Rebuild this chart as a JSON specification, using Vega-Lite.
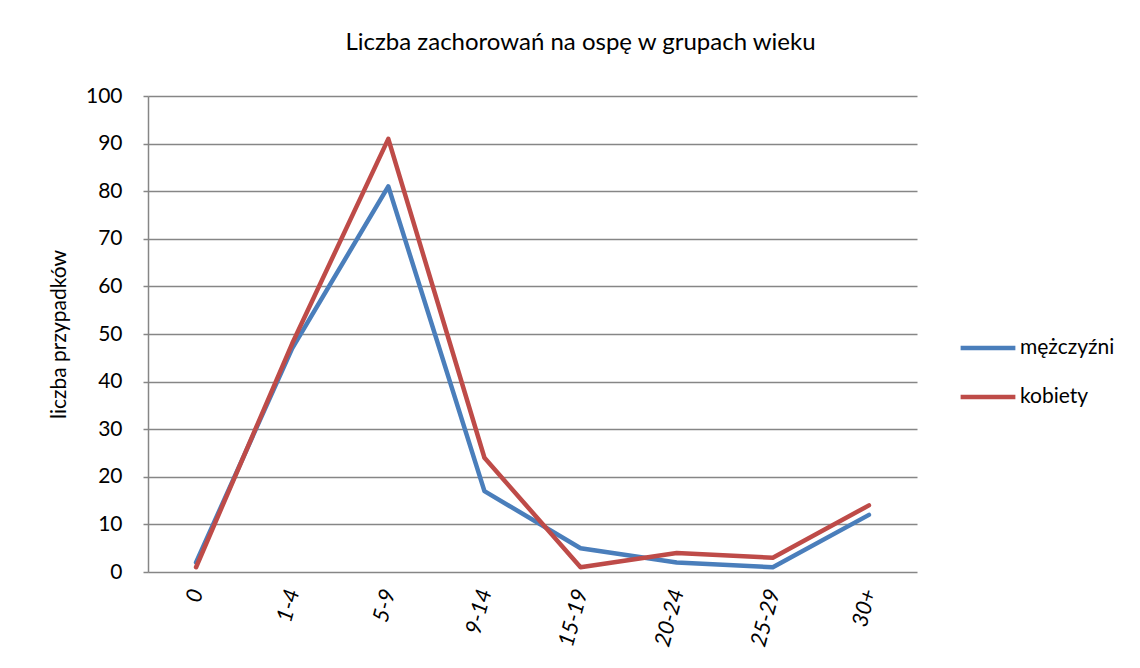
{
  "$schema": "https://vega.github.io/schema/vega-lite/v6.json",
  "width": 769,
  "height": 476,
  "autosize": {"type": "none"},
  "padding": {"left": 148, "top": 96, "right": 223, "bottom": 96},
  "background": "white",
  "title": {
    "text": "Liczba zachorowań na ospę w grupach wieku",
    "font": "Lato",
    "fontSize": 24,
    "fontWeight": "normal",
    "color": "#000000",
    "anchor": "middle",
    "dx": 48,
    "offset": 30
  },
  "data": {
    "values": [
      {"grupa": "0", "plec": "mężczyźni", "liczba": 2},
      {"grupa": "1-4", "plec": "mężczyźni", "liczba": 47},
      {"grupa": "5-9", "plec": "mężczyźni", "liczba": 81},
      {"grupa": "9-14", "plec": "mężczyźni", "liczba": 17},
      {"grupa": "15-19", "plec": "mężczyźni", "liczba": 5},
      {"grupa": "20-24", "plec": "mężczyźni", "liczba": 2},
      {"grupa": "25-29", "plec": "mężczyźni", "liczba": 1},
      {"grupa": "30+", "plec": "mężczyźni", "liczba": 12},
      {"grupa": "0", "plec": "kobiety", "liczba": 1},
      {"grupa": "1-4", "plec": "kobiety", "liczba": 48},
      {"grupa": "5-9", "plec": "kobiety", "liczba": 91},
      {"grupa": "9-14", "plec": "kobiety", "liczba": 24},
      {"grupa": "15-19", "plec": "kobiety", "liczba": 1},
      {"grupa": "20-24", "plec": "kobiety", "liczba": 4},
      {"grupa": "25-29", "plec": "kobiety", "liczba": 3},
      {"grupa": "30+", "plec": "kobiety", "liczba": 14}
    ]
  },
  "mark": {"type": "line", "strokeWidth": 4.5, "strokeCap": "round", "strokeJoin": "round"},
  "encoding": {
    "x": {
      "field": "grupa",
      "type": "ordinal",
      "sort": ["0", "1-4", "5-9", "9-14", "15-19", "20-24", "25-29", "30+"],
      "scale": {"type": "point", "padding": 0.5},
      "axis": {
        "title": null,
        "domain": false,
        "ticks": false,
        "grid": false,
        "labelAngle": -75,
        "labelAlign": "right",
        "labelBaseline": "middle",
        "labelFont": "Lato",
        "labelFontSize": 22,
        "labelFontStyle": "italic",
        "labelColor": "#000000",
        "labelPadding": 17
      }
    },
    "y": {
      "field": "liczba",
      "type": "quantitative",
      "scale": {"domain": [0, 100], "nice": false},
      "axis": {
        "values": [0, 10, 20, 30, 40, 50, 60, 70, 80, 90, 100],
        "title": "liczba przypadków",
        "titleFont": "Lato",
        "titleFontSize": 21,
        "titleFontWeight": "normal",
        "titleColor": "#000000",
        "titlePadding": 16,
        "labelFont": "Lato",
        "labelFontSize": 21,
        "labelColor": "#000000",
        "labelPadding": 21,
        "tickSize": 5,
        "tickColor": "#868686",
        "tickWidth": 1.5,
        "domainColor": "#868686",
        "domainWidth": 1.5,
        "grid": true,
        "gridColor": "#868686",
        "gridWidth": 1.5
      }
    },
    "color": {
      "field": "plec",
      "type": "nominal",
      "sort": ["mężczyźni", "kobiety"],
      "scale": {"domain": ["mężczyźni", "kobiety"], "range": ["#4a7ebb", "#be4b48"]},
      "legend": {
        "title": null,
        "orient": "none",
        "legendX": 810,
        "legendY": 222,
        "symbolType": "stroke",
        "symbolSize": 3000,
        "symbolStrokeWidth": 4.5,
        "labelFont": "Lato",
        "labelFontSize": 21,
        "labelColor": "#000000",
        "rowPadding": 9,
        "labelOffset": 2
      }
    }
  },
  "config": {"view": {"stroke": null}}
}
